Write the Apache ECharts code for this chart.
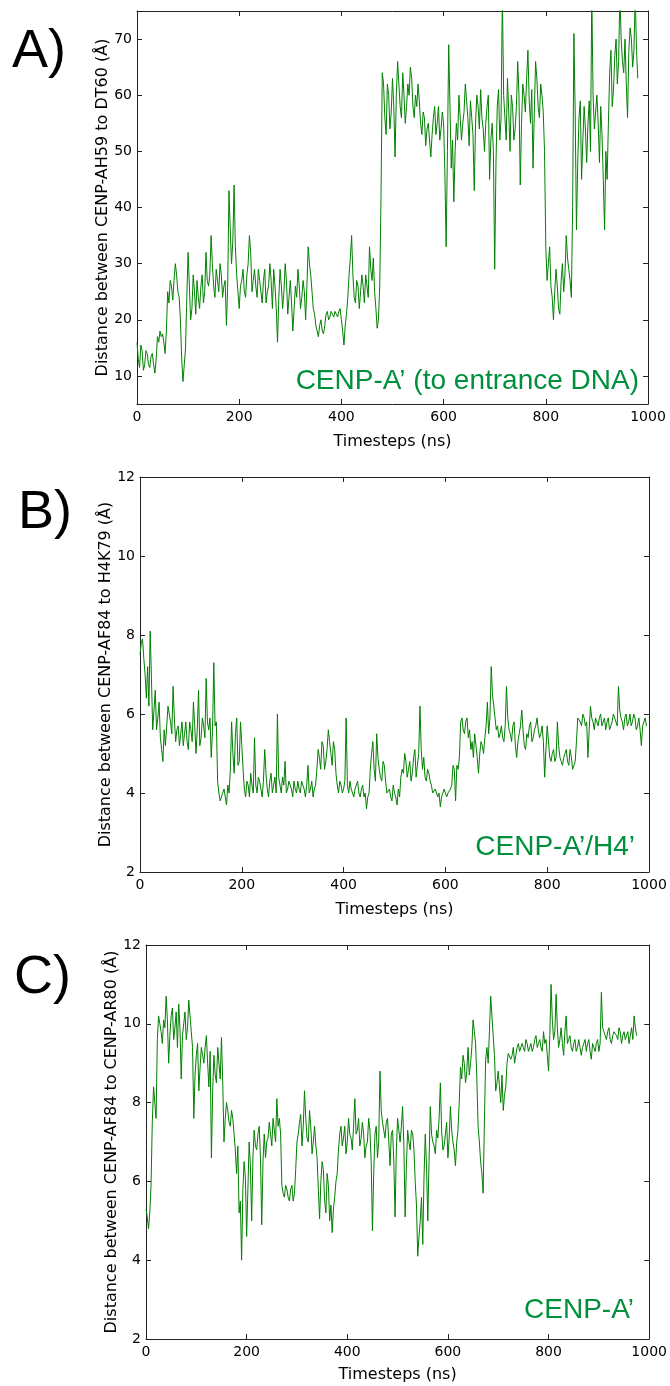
<!DOCTYPE html>
<html>
<head>
<meta charset="utf-8">
<script src="https://cdn.jsdelivr.net/npm/echarts@6/dist/echarts.min.js"></script>
<style>
  body { margin: 0; background: #fff; }
  #chart { width: 670px; height: 1386px; }
</style>
</head>
<body>
<div id="chart"></div>
<script>
// distance traces
// distX = samples every 5 ns, distXHalf = the readings in between (t + 2.5 ns)
const timeStep = 5

// A) CENP-A H59 -> DT60, t = 0..980
const distA = [
  16, 11.5, 14.5, 12, 14, 11.5, 14, 10.5, 17, 18, 17.5, 14, 25, 27, 23.5, 30, 25, 20, 9, 15,
  32, 20, 28, 21, 24, 26, 23, 32, 26, 35, 26, 29, 25, 28, 26, 19, 43, 30, 44, 28,
  22, 27, 25, 28, 35, 25, 29, 24, 27, 23, 29, 25, 30, 22, 26, 16, 29, 22, 30, 21,
  27, 18, 26, 29, 22, 27, 20, 33, 28, 22, 19, 17, 20, 17.5, 21, 20, 21.5, 20.5, 21, 21.5,
  20, 15.5, 21, 28, 35, 24, 27, 22, 28, 23, 26, 33, 27, 25, 18.5, 26, 64, 56, 62, 54,
  63, 49, 66, 58, 64, 55, 62, 65, 58, 60, 62, 55, 57, 51, 55, 49, 56, 53, 58, 54,
  55, 33, 69, 47, 41, 55, 60, 52, 57, 59, 51, 56, 43, 60, 54, 56, 50, 58, 45, 55,
  29, 58, 52, 78, 56, 63, 50, 58, 54, 66, 44, 62, 57, 68, 55, 47, 66, 58, 62, 57,
  33, 30, 26, 20, 29, 22, 27, 25, 35, 29, 24, 71, 36, 56, 45, 58, 48, 59, 78, 54,
  60, 48, 53, 36, 45, 64, 58, 67, 62, 78, 66, 70, 56, 72, 65, 78, 63
]
const distAHalf = [
  13, 15.5, 11, 14.5, 12, 13.5, 12, 13, 16, 17, 16, 18, 23, 26, 27, 28, 24, 13, 12, 24,
  26, 22, 25, 27, 22, 28, 25, 27, 28, 30, 24, 27, 30, 24, 27, 26, 36, 34, 33, 25,
  26, 29, 24, 30, 32, 27, 26, 29, 25, 27, 23, 26, 27, 29, 22, 24, 26, 25, 27, 24,
  23, 22, 24, 26, 24, 25, 26, 30, 25, 21, 18, 19, 18, 19, 21.5, 20.5, 21, 21.5, 20.5, 22,
  18, 19, 24, 31, 28, 23, 26, 25, 26, 28, 24, 29, 31, 22, 20, 42, 62, 53, 60, 57,
  58, 60, 62, 56, 60, 58, 60, 63, 56, 58, 59, 53, 56, 54, 52, 53, 58, 55, 52, 57,
  46, 50, 58, 52, 50, 52, 56, 55, 62, 56, 59, 53, 55, 58, 61, 54, 55, 60, 52, 50,
  48, 61, 56, 60, 52, 57, 60, 52, 58, 60, 55, 60, 63, 59, 61, 57, 63, 56, 60, 50,
  27, 33, 24, 25, 26, 21, 30, 28, 31, 27, 40, 57, 48, 59, 52, 54, 55, 50, 60, 57,
  55, 58, 45, 50, 55, 68, 61, 70, 66, 70, 64, 62, 68, 70, 68, 68
]

// B) CENP-A F84 -> H4 K79, t = 0..995
const distB = [
  7.5, 7.9, 7.0, 7.2, 8.1, 5.6, 6.6, 5.9, 5.4, 4.8, 5.2, 6.2, 5.8, 6.7, 5.3, 5.7, 5.5, 5.2, 5.8, 5.1,
  5.6, 6.3, 5.0, 6.6, 5.4, 5.7, 6.9, 5.6, 4.9, 7.3, 5.8, 4.0, 3.9, 4.1, 3.7, 4.0, 5.8, 4.5, 5.9, 4.8,
  5.2, 4.1, 4.3, 3.9, 4.2, 5.4, 4.0, 4.3, 3.9, 5.1, 4.1, 4.3, 4.0, 4.4, 6.0, 4.2, 4.4, 4.8, 4.1, 4.2,
  3.9, 4.1, 4.3, 4.0, 4.2, 3.9, 4.7, 4.1, 3.9, 4.2, 5.1, 4.6, 5.2, 4.8, 5.6, 5.0, 5.3, 4.5, 4.0, 4.2,
  4.1, 5.9, 4.0, 4.1, 3.9, 4.2, 4.0, 4.1, 3.9, 3.6, 4.0, 5.0, 4.6, 5.5, 4.6, 4.3, 4.7, 4.0, 4.1, 3.8,
  4.0, 3.7, 3.9, 4.6, 5.0, 4.4, 4.8, 4.5, 5.1, 4.7, 6.2, 4.6, 4.4, 4.6, 4.3, 4.0, 4.1, 3.9, 3.65, 4.0,
  4.1, 4.0, 4.1, 4.7, 3.8, 4.6, 5.8, 5.6, 5.8, 5.4, 5.1, 4.9, 5.2, 4.5, 5.3, 5.0, 5.7, 5.5, 7.2, 6.2,
  5.6, 5.4, 5.7, 5.3, 6.7, 5.6, 5.3, 5.8, 4.9, 5.5, 6.1, 5.2, 5.5, 5.7, 5.3, 5.6, 5.9, 5.4, 5.7, 4.4,
  5.7, 4.9, 5.0, 4.8, 5.8, 4.9, 4.7, 5.0, 4.8, 5.1, 4.6, 4.8, 5.9, 5.8, 6.0, 5.7, 4.9, 6.2, 5.8, 5.9,
  5.7, 6.0, 5.8, 5.6, 5.9, 5.7, 6.0, 5.8, 6.7, 5.9, 5.6, 6.0, 5.8, 5.7, 6.0, 5.6, 5.9, 5.2, 5.8, 5.7
]
const distBHalf = [
  7.8, 7.4, 6.4, 6.2, 6.9, 6.1, 5.6, 6.3, 5.1, 5.6, 5.7, 6.0, 5.5, 5.9, 5.6, 5.2, 5.8, 5.5, 5.3, 5.8,
  5.3, 5.7, 5.6, 5.2, 5.9, 5.4, 5.8, 5.9, 5.6, 5.7, 4.3, 3.8, 4.0, 3.9, 4.2, 4.6, 5.0, 5.5, 4.7, 5.8,
  4.6, 3.9, 4.2, 4.5, 4.0, 4.2, 4.4, 4.1, 4.3, 4.5, 3.9, 4.5, 4.2, 4.0, 4.4, 4.0, 4.2, 4.0, 4.3, 4.1,
  4.3, 4.0, 4.1, 4.3, 4.1, 4.2, 4.0, 4.3, 4.1, 4.6, 4.9, 5.3, 4.6, 5.1, 5.3, 4.7, 5.1, 4.2, 4.3, 4.0,
  4.3, 4.2, 4.3, 4.0, 4.1, 4.3, 3.9, 4.2, 4.0, 3.9, 4.6, 5.3, 4.3, 4.9, 4.4, 4.8, 4.3, 4.0, 3.9, 4.2,
  3.9, 4.1, 4.4, 4.5, 4.8, 4.6, 4.3, 4.9, 4.4, 5.0, 5.1, 4.9, 4.3, 4.5, 4.2, 4.0, 4.1, 4.0, 3.9, 4.1,
  3.9, 4.0, 4.2, 4.6, 4.7, 4.9, 5.9, 5.5, 5.9, 5.6, 5.3, 5.5, 4.9, 5.0, 5.2, 5.4, 6.3, 5.9, 6.5, 5.9,
  5.7, 5.5, 5.4, 5.7, 5.9, 5.5, 5.7, 5.2, 5.3, 5.7, 5.6, 5.1, 5.4, 5.8, 5.4, 5.7, 5.6, 5.5, 5.3, 5.1,
  5.3, 4.8, 5.1, 4.9, 5.2, 4.8, 4.9, 5.1, 4.7, 4.9, 4.7, 5.3, 5.9, 5.7, 5.9, 5.8, 5.6, 5.9, 5.6, 5.8,
  5.9, 5.7, 5.9, 5.8, 5.6, 5.8, 5.9, 5.7, 6.1, 5.8, 5.9, 5.7, 6.0, 5.8, 5.9, 5.7, 5.6, 5.7, 5.9
]

// C) CENP-A F84 -> CENP-A R80, t = 0..975
const distC = [
  5.3, 4.8, 5.9, 8.4, 7.6, 10.2, 9.8, 10.1, 10.7, 9.0, 10.2, 9.6, 10.3, 10.5, 8.6, 10.0, 9.6, 10.6, 9.8, 7.6,
  9.2, 8.3, 9.4, 9.0, 9.7, 8.4, 6.6, 9.2, 8.5, 9.0, 9.65, 7.0, 8.0, 7.5, 7.8, 7.2, 6.2, 5.2, 4.0, 6.5,
  4.6, 7.0, 5.0, 7.3, 6.8, 7.4, 4.9, 7.2, 7.0, 7.5, 6.9, 7.3, 8.1, 7.6, 5.9, 5.6, 5.8, 5.5, 5.9, 5.7,
  7.0, 7.5, 6.9, 8.3, 7.1, 7.8, 6.7, 7.4, 6.6, 5.05, 6.5, 5.5, 6.2, 5.0, 4.7, 5.6, 6.2, 7.2, 6.9, 7.4,
  7.0, 7.2, 6.8, 8.1, 7.3, 6.9, 7.5, 6.6, 7.0, 7.3, 4.75, 7.2, 6.6, 8.8, 7.5, 7.1, 7.6, 6.4, 7.3, 5.1,
  7.6, 7.0, 7.9, 5.1, 7.3, 6.8, 7.2, 6.0, 4.1, 5.0, 4.4, 7.2, 5.0, 7.9, 7.0, 6.7, 7.1, 8.5, 6.8, 7.2,
  6.6, 7.9, 7.0, 6.4, 7.3, 8.9, 9.2, 8.5, 9.4, 9.0, 10.1, 9.5, 7.4, 6.5, 5.7, 9.1, 9.0, 10.7, 9.7, 8.3,
  8.8, 8.0, 7.8, 8.4, 9.25, 9.1, 9.4, 9.2, 9.5, 9.3, 9.4, 9.6, 9.3, 9.5, 9.4, 9.7, 9.5, 9.4, 9.8, 9.6,
  8.8, 11.0, 9.6, 10.75, 9.4, 9.9, 9.2, 10.2, 9.6, 9.4, 9.5, 9.3, 9.6, 9.2, 9.5, 9.3, 9.6, 9.1, 9.4, 9.5,
  9.3, 10.8, 9.8, 9.6, 9.9, 9.5, 9.8, 9.7, 9.9, 9.5, 9.8, 9.6, 9.5, 9.9, 10.2, 9.7
]
const distCHalf = [
  5.1, 5.2, 7.5, 8.0, 9.6, 10.0, 9.5, 9.9, 10.1, 9.7, 10.4, 9.9, 9.4, 9.9, 9.7, 10.3, 9.9, 10.2, 9.4, 8.7,
  9.5, 8.9, 9.2, 9.4, 9.0, 9.3, 8.3, 8.7, 9.4, 8.6, 8.5, 7.6, 7.8, 7.4, 7.6, 6.8, 6.9, 5.5, 5.8, 6.1,
  5.8, 6.4, 6.6, 6.9, 7.2, 6.6, 6.5, 6.6, 7.1, 7.2, 7.6, 7.0, 7.4, 7.2, 5.7, 5.9, 5.6, 5.8, 5.5, 6.3,
  7.2, 7.7, 7.4, 7.6, 7.0, 7.4, 7.0, 6.9, 5.8, 6.0, 6.3, 5.2, 5.9, 5.4, 5.3, 6.0, 6.8, 7.4, 7.1, 6.7,
  7.6, 7.1, 7.4, 7.2, 7.6, 7.1, 7.2, 6.9, 7.6, 6.5, 6.2, 7.4, 7.0, 7.8, 7.3, 7.5, 7.0, 7.2, 6.5, 6.8,
  7.3, 7.4, 6.9, 6.4, 7.0, 7.3, 6.8, 5.4, 4.6, 5.6, 6.1, 6.4, 6.5, 7.2, 6.9, 7.3, 7.6, 7.3, 6.9, 7.5,
  7.1, 7.3, 6.8, 7.0, 8.0, 8.6, 9.0, 8.8, 8.7, 9.4, 9.8, 8.6, 7.0, 6.2, 7.5, 9.4, 9.8, 10.2, 9.2, 8.5,
  8.4, 8.7, 8.2, 9.0, 9.3, 9.2, 9.0, 9.4, 9.3, 9.5, 9.3, 9.5, 9.4, 9.3, 9.6, 9.4, 9.6, 9.3, 9.5, 9.2,
  9.7, 10.1, 9.8, 9.9, 9.6, 9.5, 9.8, 9.5, 9.7, 9.3, 9.6, 9.4, 9.4, 9.4, 9.6, 9.5, 9.3, 9.5, 9.3, 9.6,
  9.5, 9.9, 9.7, 9.8, 9.6, 9.7, 9.8, 9.6, 9.8, 9.7, 9.6, 9.8, 9.7, 9.6, 9.9
]

const yTicksA = [10, 20, 30, 40, 50, 60, 70]

const panels = [
  {
    tag: 'A)', note: 'CENP-A’ (to entrance DNA)', data: distA, half: distAHalf,
    yName: 'Distance between CENP-AH59 to DT60 (Å)',
    yMin: 5, yMax: 75, yTicks: yTicksA,
    grid: { left: 137, top: 11, width: 511, height: 393 },
    tagPos: [12, 52], notePos: [639, 381]
  },
  {
    tag: 'B)', note: 'CENP-A’/H4’', data: distB, half: distBHalf,
    yName: 'Distance between CENP-AF84 to H4K79 (Å)',
    yMin: 2, yMax: 12, yInterval: 2,
    grid: { left: 140, top: 477, width: 509, height: 395 },
    tagPos: [18, 513], notePos: [635, 847]
  },
  {
    tag: 'C)', note: 'CENP-A’', data: distC, half: distCHalf,
    yName: 'Distance between CENP-AF84 to CENP-AR80 (Å)',
    yMin: 2, yMax: 12, yInterval: 2,
    grid: { left: 146, top: 945, width: 509, height: 394 },
    tagPos: [14, 978], notePos: [634, 1310]
  }
]

const lineColor = '#008000'
const noteColor = '#008f3a'
const axisColor = '#222'
const tickFont = { color: '#000', fontFamily: 'DejaVu Sans', fontSize: 14 }

// merge the whole-step and half-step readings into one time-ordered trace
function trace(values, half) {
  const out = []
  values.forEach((v, k) => {
    out.push([k * timeStep, v])
    if (k < values.length - 1 && half[k] !== undefined) {
      out.push([k * timeStep + timeStep / 2, half[k]])
    }
  })
  return out
}

const grid = []
const xAxis = []
const yAxis = []
const series = []
const graphic = []

panels.forEach((p, i) => {
  grid.push(p.grid)
  const line = { show: true, onZero: false, lineStyle: { color: axisColor, width: 1 } }
  const tick = { show: true, inside: true, length: 5, lineStyle: { color: axisColor, width: 1 } }
  const yScale = { min: p.yMin, max: p.yMax }
  if (p.yInterval) yScale.interval = p.yInterval
  const yTick = p.yTicks ? { ...tick, customValues: p.yTicks } : tick
  xAxis.push({
    type: 'value', gridIndex: i, position: 'bottom', min: 0, max: 1000, interval: 200,
    axisLine: line, axisTick: tick, splitLine: { show: false },
    axisLabel: { ...tickFont, margin: 6, formatter: v => String(v) },
    name: 'Timesteps (ns)', nameLocation: 'middle', nameGap: i === 2 ? 28 : 30,
    nameMoveOverlap: false,
    nameTextStyle: { color: '#000', fontFamily: 'DejaVu Sans', fontSize: 16 }
  })
  // top and right axes only draw the frame and the inner ticks
  xAxis.push({
    type: 'value', gridIndex: i, position: 'top', min: 0, max: 1000, interval: 200,
    axisLine: line, axisTick: tick, axisLabel: { show: false }, splitLine: { show: false }
  })
  yAxis.push({
    type: 'value', gridIndex: i, position: 'left', ...yScale,
    axisLine: line, axisTick: yTick,
    splitLine: { show: false },
    axisLabel: p.yTicks ? { ...tickFont, margin: 5, customValues: p.yTicks } : { ...tickFont, margin: 5 },
    name: p.yName, nameLocation: 'middle', nameGap: 26, nameMoveOverlap: false,
    nameTextStyle: { color: '#000', fontFamily: 'DejaVu Sans', fontSize: 16 }
  })
  yAxis.push({
    type: 'value', gridIndex: i, position: 'right', ...yScale,
    axisLine: line, axisTick: yTick,
    axisLabel: { show: false }, splitLine: { show: false }
  })
  series.push({
    type: 'line', xAxisIndex: i * 2, yAxisIndex: i * 2,
    data: trace(p.data, p.half),
    showSymbol: false, clip: true,
    lineStyle: { color: lineColor, width: 1 }
  })
  graphic.push({
    type: 'text', left: p.tagPos[0], top: p.tagPos[1] - 27,
    style: { text: p.tag, fontFamily: 'Liberation Sans', fontSize: 54, fill: '#000' }
  })
  graphic.push({
    type: 'text', x: p.notePos[0], y: p.notePos[1],
    style: {
      text: p.note, fontFamily: 'Liberation Sans', fontSize: 28, fill: noteColor,
      textAlign: 'right', textVerticalAlign: 'middle'
    }
  })
})

const myChart = echarts.init(document.getElementById('chart'))
myChart.setOption({
  animation: false,
  backgroundColor: '#fff',
  grid, xAxis, yAxis, series, graphic
})
</script>
</body>
</html>
